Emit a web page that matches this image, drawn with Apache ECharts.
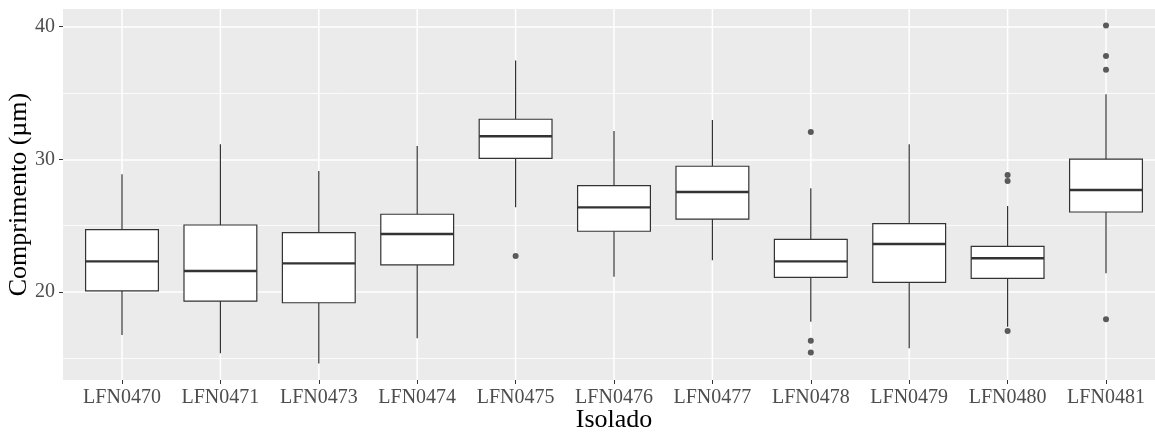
<!DOCTYPE html>
<html>
<head>
<meta charset="utf-8">
<script src="https://cdn.jsdelivr.net/npm/echarts@6/dist/echarts.min.js"></script>
<style>
  html, body { margin: 0; padding: 0; background: #ffffff; }
  #chart { width: 1155px; height: 432px; }
</style>
</head>
<body>
<div id="chart"></div>
<script>
// ---- data ----
const categories = ['LFN0470', 'LFN0471', 'LFN0473', 'LFN0474', 'LFN0475', 'LFN0476',
                    'LFN0477', 'LFN0478', 'LFN0479', 'LFN0480', 'LFN0481'];
const whiskerLow  = [16.76, 15.38, 14.62, 16.51, 26.38, 21.16, 22.39, 17.76, 15.76, 17.39, 21.41];
const lowerQuart  = [20.08, 19.32, 19.19, 22.04, 30.08, 24.58, 25.50, 21.11, 20.73, 21.03, 26.03];
const medians     = [22.31, 21.58, 22.16, 24.37, 31.74, 26.38, 27.54, 22.31, 23.62, 22.54, 27.69];
const upperQuart  = [24.70, 25.05, 24.47, 25.86, 33.02, 28.02, 29.48, 23.97, 25.15, 23.44, 30.01];
const whiskerHigh = [28.87, 31.13, 29.12, 31.00, 37.44, 32.14, 32.97, 27.82, 31.13, 26.48, 34.90];
const outlierCategory = ['LFN0475', 'LFN0478', 'LFN0478', 'LFN0478', 'LFN0480', 'LFN0480', 'LFN0480',
                         'LFN0481', 'LFN0481', 'LFN0481', 'LFN0481'];
const outlierValue    = [22.71, 32.06, 16.33, 15.45, 28.82, 28.37, 17.06,
                         40.08, 37.79, 36.76, 17.94];
const yMajorTicks = [20, 30, 40];
const yMinorTicks = [15, 25, 35];
const yMin = 13.37, yMax = 41.33;

// ---- build series data ----
const boxData = categories.map((c, i) =>
  [i, whiskerLow[i], lowerQuart[i], medians[i], upperQuart[i], whiskerHigh[i]]);
const outlierData = outlierCategory.map((c, i) => [c, outlierValue[i]]);
const gridLineData = categories.map((c, i) => [i]);

const FONT = '"Liberation Serif", "DejaVu Serif", serif';
const chart = echarts.init(document.getElementById('chart'), null, { renderer: 'canvas' });

const option = {
  animation: false,
  backgroundColor: '#ffffff',
  grid: [
    // data grid (category bands)
    { left: 72.8, top: 9, width: 1082.4, height: 371, show: false, containLabel: false,
      outerBoundsMode: 'none' },
    // panel grid (grey background incl. ggplot expansion)
    { left: 63, top: 9, width: 1102, height: 371, show: true, backgroundColor: '#EBEBEB',
      borderWidth: 0, z: -1, containLabel: false, outerBoundsMode: 'none' }
  ],
  xAxis: [
    {
      gridIndex: 0, type: 'category', data: categories, boundaryGap: true,
      axisLine: { show: false },
      axisTick: { show: true, alignWithLabel: true, length: 4, lineStyle: { color: '#333333', width: 1 } },
      axisLabel: { interval: 0, color: '#4D4D4D', fontFamily: FONT, fontSize: 20, margin: 8 },
      splitLine: { show: false },
      name: 'Isolado', nameLocation: 'middle', nameGap: 27, nameMoveOverlap: false,
      nameTextStyle: { color: '#000000', fontFamily: FONT, fontSize: 26 }
    },
    { gridIndex: 1, type: 'value', min: 0, max: 1, show: false }
  ],
  yAxis: [
    { gridIndex: 0, type: 'value', min: yMin, max: yMax, show: false },
    {
      gridIndex: 1, type: 'value', min: yMin, max: yMax,
      axisLine: { show: false },
      axisTick: { show: true, length: 4, customValues: yMajorTicks, lineStyle: { color: '#333333', width: 1 } },
      axisLabel: { show: true, customValues: yMajorTicks, color: '#4D4D4D', fontFamily: FONT, fontSize: 20, margin: 8 },
      splitLine: { show: true, lineStyle: { color: '#ffffff', width: 1.5 } },
      name: 'Comprimento (µm)', nameLocation: 'middle', nameGap: 31, nameRotate: 90, nameMoveOverlap: false,
      nameTextStyle: { color: '#000000', fontFamily: FONT, fontSize: 26 }
    },
    {
      gridIndex: 1, type: 'value', min: yMin, max: yMax,
      axisLine: { show: false },
      axisTick: { show: false, customValues: yMinorTicks },
      axisLabel: { show: false, customValues: yMinorTicks },
      splitLine: { show: true, lineStyle: { color: '#ffffff', width: 0.8 } }
    }
  ],
  series: [
    {
      // vertical white grid lines at category centres
      type: 'custom', xAxisIndex: 0, yAxisIndex: 0, z: 1, silent: true,
      data: gridLineData,
      encode: { x: 0 },
      renderItem: function (params, api) {
        const i = api.value(0);
        const top = api.coord([i, yMax]);
        const bot = api.coord([i, yMin]);
        return { type: 'line', shape: { x1: top[0], y1: top[1], x2: bot[0], y2: bot[1] },
                 style: { stroke: '#ffffff', lineWidth: 1.5 } };
      }
    },
    {
      type: 'custom', xAxisIndex: 0, yAxisIndex: 0, z: 2,
      data: boxData,
      encode: { x: 0, y: [1, 2, 3, 4, 5] },
      renderItem: function (params, api) {
        const i = api.value(0);
        const lo = api.coord([i, api.value(1)]);
        const q1 = api.coord([i, api.value(2)]);
        const md = api.coord([i, api.value(3)]);
        const q3 = api.coord([i, api.value(4)]);
        const hi = api.coord([i, api.value(5)]);
        const bw = api.size([1, 0])[0] * 0.74;
        const x = lo[0];
        const stroke = '#333333';
        return {
          type: 'group',
          children: [
            { type: 'line', shape: { x1: x, y1: lo[1], x2: x, y2: q1[1] }, style: { stroke: stroke, lineWidth: 1.2 } },
            { type: 'line', shape: { x1: x, y1: q3[1], x2: x, y2: hi[1] }, style: { stroke: stroke, lineWidth: 1.2 } },
            { type: 'rect', shape: { x: x - bw / 2, y: q3[1], width: bw, height: q1[1] - q3[1] },
              style: { fill: '#ffffff', stroke: stroke, lineWidth: 1.2 } },
            { type: 'line', shape: { x1: x - bw / 2, y1: md[1], x2: x + bw / 2, y2: md[1] },
              style: { stroke: stroke, lineWidth: 2.4 } }
          ]
        };
      }
    },
    {
      type: 'scatter', xAxisIndex: 0, yAxisIndex: 0, z: 3,
      data: outlierData,
      symbol: 'circle', symbolSize: 6,
      itemStyle: { color: '#333333' }
    }
  ]
};
chart.setOption(option);
</script>
</body>
</html>
